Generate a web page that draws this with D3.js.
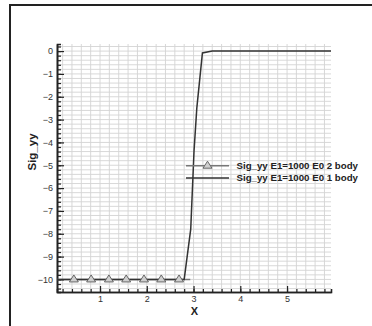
<!DOCTYPE html>
<html>
<head>
<meta charset="utf-8">
<script src="https://cdn.jsdelivr.net/npm/d3@7"></script>
<style>
  body { margin: 0; background: #fff; }
  svg { display: block; font-family: "Liberation Sans", Arial, sans-serif; }
</style>
</head>
<body>
<div id="chart"></div>
<script>
// Sig_yy along X, two runs
const body1 = [
  [0.08, -10], [2.80, -10], [2.94, -7.8], [3.01, -4.4],
  [3.07, -2.5], [3.19, -0.08], [3.40, 0], [5.94, 0]
];
const body2 = [
  [0.08, -10], [0.44, -10], [0.81, -10], [1.19, -10], [1.56, -10],
  [1.94, -10], [2.31, -10], [2.69, -10], [2.93, -10]
];
const body2Markers = [0.44, 0.81, 1.19, 1.56, 1.94, 2.31, 2.69];
const xTicks = [1, 2, 3, 4, 5];
const yTicks = [0, -1, -2, -3, -4, -5, -6, -7, -8, -9, -10];
const legendLabels = ['Sig_yy E1=1000 E0 2 body', 'Sig_yy E1=1000 E0 1 body'];

const W = 372, H = 326;
const m = { left: 57, right: 41, top: 44, bottom: 34 };

const svg = d3.select('#chart').append('svg').attr('width', W).attr('height', H);

// outer frame (only top and left visible)
svg.append('path')
  .attr('d', `M10,${H + 2} L10,5 L${W + 2},5`)
  .attr('fill', 'none').attr('stroke', '#222').attr('stroke-width', 2);

const x = d3.scaleLinear().domain([0.08, 5.94]).range([m.left, W - m.right]);
const y = d3.scaleLinear().domain([-10.55, 0.31]).range([H - m.bottom, m.top]);

const minorX = d3.range(0.2, 5.94, 0.2);
const minorY = d3.range(-10.4, 0.31, 0.2);

// grid
const grid = svg.append('g');
grid.selectAll('.gx').data(minorX).enter().append('line')
  .attr('x1', d => x(d)).attr('x2', d => x(d))
  .attr('y1', y.range()[0]).attr('y2', y.range()[1])
  .attr('stroke', '#d4d4d4').attr('stroke-width', 0.9);
grid.selectAll('.gy').data(minorY).enter().append('line')
  .attr('y1', d => y(d)).attr('y2', d => y(d))
  .attr('x1', x.range()[0]).attr('x2', x.range()[1])
  .attr('stroke', '#d4d4d4').attr('stroke-width', 0.9);

// axes
const xAxis = d3.axisBottom(x).tickValues(xTicks).tickSizeInner(-6).tickSizeOuter(0).tickPadding(4).tickFormat(d3.format('d'));
const xMinor = d3.axisBottom(x).tickValues(minorX).tickSize(-3).tickFormat('');
const yAxis = d3.axisLeft(y).tickValues(yTicks).tickSizeInner(-7).tickSizeOuter(0).tickPadding(4).tickFormat(d3.format('d'));
const yMinor = d3.axisLeft(y).tickValues(minorY).tickSize(-4).tickFormat('');

function styleAxis(g) {
  g.select('.domain').attr('stroke', '#222').attr('stroke-width', 1.6);
  g.selectAll('.tick line').attr('stroke', '#222').attr('stroke-width', 1.2);
  g.selectAll('.tick text').attr('fill', '#333').style('font-size', '9px');
}

svg.append('g').attr('transform', `translate(0,${y.range()[0]})`).call(xMinor).call(styleAxis);
svg.append('g').attr('transform', `translate(${x.range()[0]},0)`).call(yMinor).call(styleAxis);
svg.append('g').attr('transform', `translate(0,${y.range()[0]})`).call(xAxis).call(styleAxis);
svg.append('g').attr('transform', `translate(${x.range()[0]},0)`).call(yAxis).call(styleAxis);

// axis titles
svg.append('text')
  .attr('transform', 'translate(36,152) rotate(-90)')
  .attr('text-anchor', 'middle')
  .style('font-size', '11.5px').style('font-weight', 'bold').attr('fill', '#222')
  .text('Sig_yy');
svg.append('text')
  .attr('x', x(3) + 1).attr('y', 314.5)
  .attr('text-anchor', 'middle')
  .style('font-size', '11px').style('font-weight', 'bold').attr('fill', '#222')
  .text('X');

const line = d3.line().x(d => x(d[0])).y(d => y(d[1]));

function triangle(cx, cy) {
  return `M${cx},${cy - 4} L${cx + 4.5},${cy + 3} L${cx - 4.5},${cy + 3} Z`;
}

// 2 body series
svg.append('path').datum(body2).attr('d', line)
  .attr('fill', 'none').attr('stroke', '#777').attr('stroke-width', 1.5);

// 1 body series
svg.append('path').datum(body1).attr('d', line)
  .attr('fill', 'none').attr('stroke', '#333').attr('stroke-width', 1.5);

svg.selectAll('.mk').data(body2Markers).enter().append('path')
  .attr('d', d => triangle(x(d), y(-10) - 0.5))
  .attr('fill', '#cfcfcf').attr('stroke', '#666').attr('stroke-width', 1);

// legend
const lg = svg.append('g');
const ly = [165.7, 178];
lg.append('line').attr('x1', 186).attr('x2', 229).attr('y1', ly[0]).attr('y2', ly[0])
  .attr('stroke', '#777').attr('stroke-width', 1.5);
lg.append('path').attr('d', triangle(207.5, ly[0] - 0.5))
  .attr('fill', '#cfcfcf').attr('stroke', '#666').attr('stroke-width', 1);
lg.append('line').attr('x1', 186).attr('x2', 229).attr('y1', ly[1]).attr('y2', ly[1])
  .attr('stroke', '#333').attr('stroke-width', 1.5);
lg.selectAll('text').data(legendLabels).enter().append('text')
  .attr('x', 236.5).attr('y', (d, i) => ly[i]).attr('dy', '0.35em')
  .style('font-size', '9.7px').style('font-weight', 'bold').attr('fill', '#222')
  .text(d => d);
</script>
</body>
</html>
